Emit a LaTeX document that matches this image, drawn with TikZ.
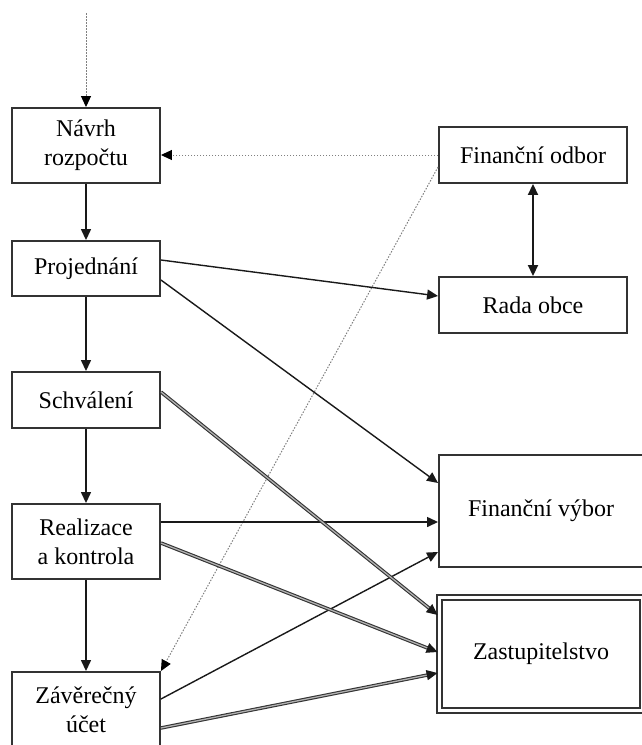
\documentclass[tikz,border=0pt]{standalone}
\usepackage{fontspec}
\setmainfont{Liberation Serif}
\usetikzlibrary{arrows.meta,calc}
\newcommand{\dblconn}[2]{%
  \draw[dbl] (#1) -- ($(#2)!10pt!(#1)$);
  \draw[arr] ($(#2)!10pt!(#1)$) -- (#2);}
\begin{document}
\begin{tikzpicture}[x=1pt,y=-1pt,
  box/.style={draw=black!80, line width=1.9pt, fill=white, align=center,
    inner sep=0pt, font=\fontsize{24}{29}\selectfont},
  arr/.style={line width=1.4pt, draw=black!90, -{Triangle[length=11pt,width=10pt]}},
  dotarr/.style={line width=1pt, draw=black!50, dash pattern=on 1.5pt off 1.5pt,
    -{Triangle[length=11pt,width=10pt,color=black]}},
  dbl/.style={draw=black!80, line width=1.1pt, double=black!30, double distance=1.3pt},
  biarr/.style={line width=1.8pt, draw=black!90,
    {Triangle[length=11pt,width=10pt]}-{Triangle[length=11pt,width=10pt]}}
]
\useasboundingbox (0,0) rectangle (642,745);
% left column
\node[box, minimum width=148pt, minimum height=75pt] (nav) at (86,145.5) {Návrh\\rozpočtu};
\node[box, minimum width=148pt, minimum height=55pt] (proj) at (86,268.5) {Projednání};
\node[box, minimum width=148pt, minimum height=56pt] (schv) at (86,400) {Schválení};
\node[box, minimum width=148pt, minimum height=75pt] (real) at (86,541.5) {Realizace\\a kontrola};
\node[box, minimum width=148pt, minimum height=75pt] (zav) at (86,709.5) {Závěrečný\\účet};
% right column
\node[box, minimum width=188pt, minimum height=56pt] (fo) at (533,155) {Finanční odbor};
\node[box, minimum width=188pt, minimum height=56pt] (rada) at (533,305) {Rada obce};
\node[box, minimum width=204pt, minimum height=112pt] (fv) at (541,511) {Finanční výbor};
\node[box, line width=1.8pt, double, double distance=3pt, minimum width=203pt,
  minimum height=112.5pt] (zast) at (541,654) {Zastupitelstvo};
% incoming dotted arrow
\coordinate (top) at (86,13);
\draw[dotarr] (top) -- (nav.north);
% vertical flow
\draw[arr] (nav.south) -- (proj.north);
\draw[arr] (proj.south) -- (schv.north);
\draw[arr] (schv.south) -- (real.north);
\draw[arr] (real.south) -- (zav.north);
% financni odbor
\draw[dotarr] (fo.west) -- (nav.east |- fo.west);
\draw[dotarr] ($(fo.west)+(0,12)$) -- (zav.north east);
\draw[biarr] (fo.south) -- (rada.north);
% solid connectors
\draw[arr] ($(proj.east)+(0,-8.5)$) -- ($(rada.west)+(0,-9)$);
\draw[arr] ($(proj.east)+(0,11.5)$) -- ($(fv.west)+(0,-28)$);
\draw[arr] ($(real.east)+(0,-19.5)$) -- ($(fv.west)+(0,11)$);
\draw[arr] ($(zav.east)+(0,-10.5)$) -- ($(fv.west)+(0,41)$);
% double connectors
\coordinate (s1) at ($(schv.east)+(0,-8)$);
\coordinate (e1) at ($(zast.west)+(-1,-39)$);
\coordinate (s2) at ($(real.east)+(0,1.5)$);
\coordinate (e2) at ($(zast.west)+(-1,-2)$);
\coordinate (s3) at ($(zav.east)+(0,18.5)$);
\coordinate (e3) at ($(zast.west)+(-1,19)$);
\dblconn{s1}{e1}
\dblconn{s2}{e2}
\dblconn{s3}{e3}
\end{tikzpicture}
\end{document}
